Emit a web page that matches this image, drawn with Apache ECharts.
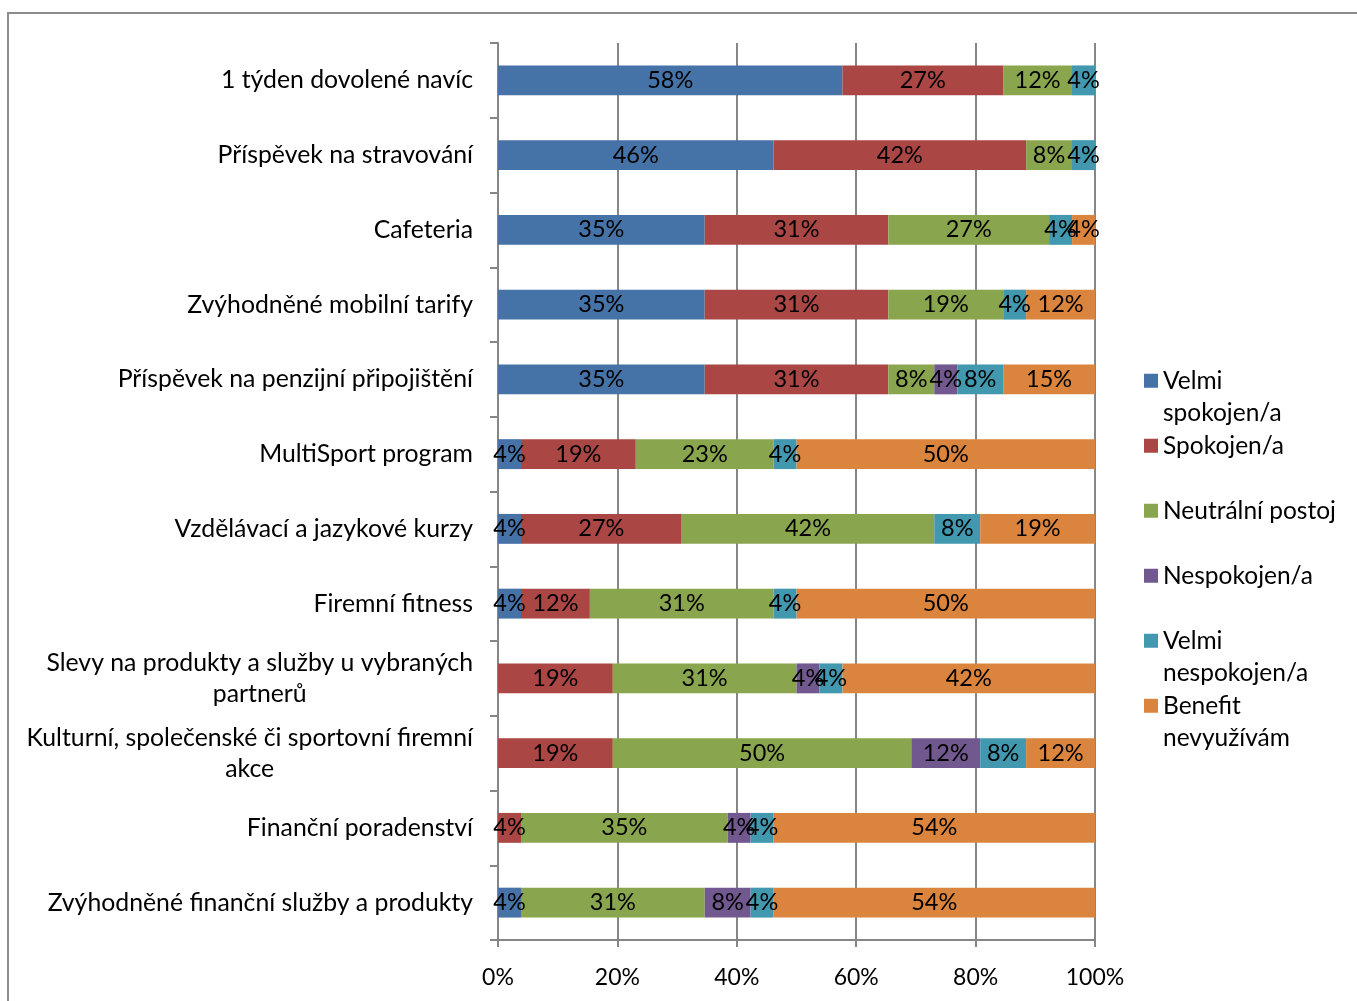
<!DOCTYPE html>
<html>
<head>
<meta charset="utf-8">
<script src="https://cdn.jsdelivr.net/npm/echarts@6/dist/echarts.min.js"></script>
<style>
html, body { margin: 0; padding: 0; background: #fff; }
#chart { width: 1357px; height: 1001px; }
</style>
</head>
<body>
<div id="chart"></div>
<script>
// kategorie shora dolů
const categories = [
  '1 týden dovolené navíc',
  'Příspěvek na stravování',
  'Cafeteria',
  'Zvýhodněné mobilní tarify',
  'Příspěvek na penzijní připojištění',
  'MultiSport program',
  'Vzdělávací a jazykové kurzy',
  'Firemní fitness',
  'Slevy na produkty a služby u vybraných\npartnerů',
  'Kulturní, společenské či sportovní firemní\nakce',
  'Finanční poradenství',
  'Zvýhodněné finanční služby a produkty'
]

// podíly odpovědí v %
const velmiSpokojen = [57.69, 46.15, 34.62, 34.62, 34.62, 3.85, 3.85, 3.85, 0, 0, 0, 3.85]
const spokojen = [26.92, 42.31, 30.77, 30.77, 30.77, 19.23, 26.92, 11.54, 19.23, 19.23, 3.85, 0]
const neutralni = [11.54, 7.69, 26.92, 19.23, 7.69, 23.08, 42.31, 30.77, 30.77, 50.00, 34.62, 30.77]
const nespokojen = [0, 0, 0, 0, 3.85, 0, 0, 0, 3.85, 11.54, 3.85, 7.69]
const velmiNespokojen = [3.85, 3.85, 3.85, 3.85, 7.69, 3.85, 7.69, 3.85, 3.85, 7.69, 3.85, 3.85]
const nevyuzivam = [0, 0, 3.85, 11.54, 15.38, 50.00, 19.23, 50.00, 42.31, 11.54, 53.85, 53.85]

const seriesNames = ['Velmi spokojen/a', 'Spokojen/a', 'Neutrální postoj', 'Nespokojen/a', 'Velmi nespokojen/a', 'Benefit nevyužívám']
// zalomení textu v legendě (prázdný první řádek drží značku u prvního řádku textu)
const legendLabels = [' \nVelmi\nspokojen/a', ' \nSpokojen/a\n ', ' \nNeutrální postoj\n ', ' \nNespokojen/a\n ', ' \nVelmi\nnespokojen/a', ' \nBenefit\nnevyužívám']
const colors = ['#4572A7', '#AA4643', '#89A54E', '#71588F', '#4198AF', '#DB843D']
const xTicks = [0, 20, 40, 60, 80, 100]

const FONT = 'Lato'
const allData = [velmiSpokojen, spokojen, neutralni, nespokojen, velmiNespokojen, nevyuzivam]

const chart = echarts.init(document.getElementById('chart'))

const series = seriesNames.map((name, i) => ({
  name: name,
  type: 'bar',
  stack: 'total',
  barCategoryGap: '60%',
  data: allData[i],
  itemStyle: { color: colors[i] },
  label: {
    show: true,
    position: 'inside',
    color: '#000',
    fontFamily: FONT,
    fontSize: 23.5,
    formatter: p => (p.value ? Math.round(p.value) + '%' : '')
  }
}))

chart.setOption({
  animation: false,
  color: colors,
  textStyle: { fontFamily: FONT },
  graphic: [{
    type: 'rect',
    shape: { x: 8, y: 13, width: 1400, height: 1100 },
    style: { fill: 'none', stroke: '#8c8c8c', lineWidth: 2 },
    silent: true
  }],
  grid: {
    left: 498,
    top: 43,
    width: 597,
    height: 897,
    containLabel: false
  },
  legend: {
    orient: 'vertical',
    left: 1144,
    top: 332,
    padding: 0,
    itemWidth: 14,
    itemHeight: 14,
    itemGap: -32.5,
    icon: 'rect',
    data: seriesNames,
    formatter: name => legendLabels[seriesNames.indexOf(name)],
    textStyle: {
      fontFamily: FONT,
      fontSize: 24.5,
      color: '#000',
      lineHeight: 32.5
    }
  },
  xAxis: {
    type: 'value',
    min: 0,
    max: 100,
    interval: 20,
    axisLine: { show: true, lineStyle: { color: '#868686', width: 2 } },
    axisTick: { show: true, length: 7, lineStyle: { color: '#868686', width: 2 } },
    splitLine: { show: true, lineStyle: { color: '#868686', width: 2 } },
    axisLabel: {
      margin: 26,
      color: '#000',
      fontFamily: FONT,
      fontSize: 23,
      formatter: v => (xTicks.indexOf(v) >= 0 ? v + '%' : '')
    }
  },
  yAxis: {
    type: 'category',
    inverse: true,
    data: categories,
    axisLine: { show: true, lineStyle: { color: '#868686', width: 2 } },
    axisTick: { show: true, length: 8, lineStyle: { color: '#868686', width: 2 } },
    axisLabel: {
      margin: 25,
      align: 'right',
      formatter: v => v.split('\n').map(s => '{c|' + s + '}').join('\n'),
      rich: {
        c: {
          align: 'center',
          fontFamily: FONT,
          fontSize: 24.8,
          color: '#000',
          lineHeight: 31
        }
      }
    }
  },
  series: series
})

window.addEventListener('resize', () => {
  chart.resize()
})
</script>
</body>
</html>
